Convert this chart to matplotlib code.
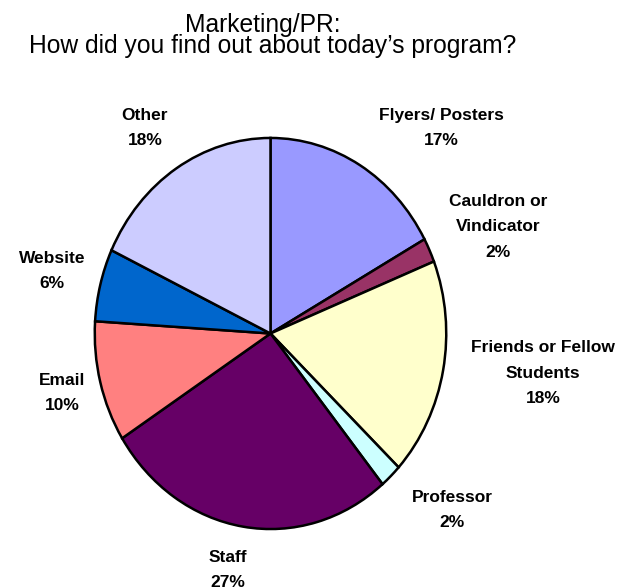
import matplotlib
matplotlib.use("Agg")
import matplotlib.pyplot as plt

# survey answers, clockwise from 12 o'clock
sources = ["Flyers/ Posters", "Cauldron or\nVindicator", "Friends or Fellow\nStudents",
           "Professor", "Staff", "Email", "Website", "Other"]
counts = [17, 2, 18, 2, 27, 10, 6, 18]
colors = ["#9999FF", "#993366", "#FFFFCC", "#CCFFFF", "#660066", "#FF8080", "#0066CC", "#CCCCFF"]

# label centres in pixels (x from left, y from top)
label_xy = [(441, 128), (498, 227), (543, 373), (452, 510),
            (228, 570), (62, 393), (52, 271), (145, 128)]

W, H = 642, 588
plt.rcParams["font.family"] = ["Liberation Sans", "DejaVu Sans"]

fig = plt.figure(figsize=(W / 100, H / 100), dpi=100)


def fx(x):
    return x / W


def fy(y):
    return 1 - y / H


# pie is slightly taller than wide
left, right, top, bottom = 93, 448, 136, 531
ax = fig.add_axes([fx(left), fy(bottom), (right - left) / W, (bottom - top) / H])
ax.pie(counts, colors=colors, startangle=90, counterclock=False,
       wedgeprops=dict(edgecolor="black", linewidth=1.8))
ax.set_aspect("auto")
ax.set_xlim(-1.01, 1.01)
ax.set_ylim(-1.01, 1.01)
ax.axis("off")

total = sum(counts)
for name, c, (x, y) in zip(sources, counts, label_xy):
    pct = 100 * c / total
    fig.text(fx(x), fy(y), f"{name}\n{pct:.0f}%", ha="center", va="center",
             multialignment="center", fontsize=12.5, fontweight="bold",
             linespacing=1.9)

fig.text(fx(263), fy(31.7), "Marketing/PR:", ha="center", va="baseline", fontsize=17.7)
fig.text(fx(273), fy(53.3), "How did you find out about today\u2019s program?",
         ha="center", va="baseline", fontsize=17.7)

plt.savefig("out.png", dpi=100)
